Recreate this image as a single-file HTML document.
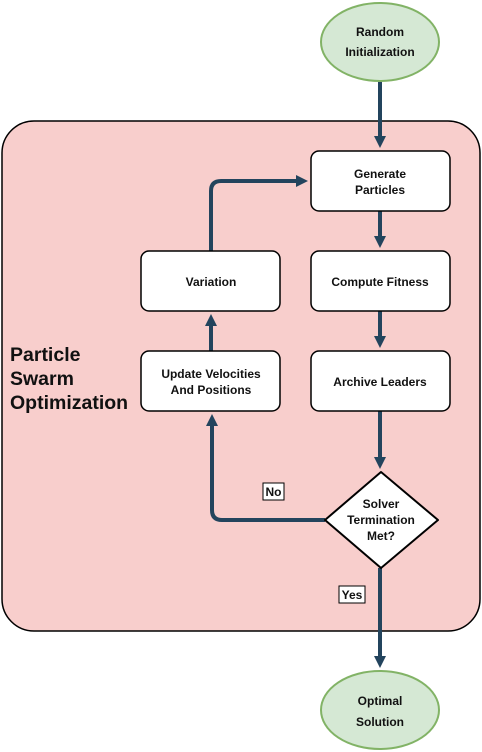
<!DOCTYPE html>
<html><head><style>
html,body{margin:0;padding:0;background:#fff;}
svg{display:block;}
text{font-family:"Liberation Sans",sans-serif;font-weight:bold;fill:#111;}
</style></head><body>
<svg width="482" height="752" viewBox="0 0 482 752">
<defs>
<marker id="a" markerWidth="12" markerHeight="12" refX="6" refY="6" orient="auto" markerUnits="userSpaceOnUse" viewBox="0 0 12 12">
<path d="M0,0 L12,6 L0,12 Z" fill="#23445d"/>
</marker>
</defs>
<rect x="2" y="121" width="478" height="510" rx="32" fill="#f8cecc" stroke="#000" stroke-width="1.5"/>
<text x="10" y="361" font-size="19.5">Particle</text>
<text x="10" y="385" font-size="19.5">Swarm</text>
<text x="10" y="409" font-size="19.5">Optimization</text>
<g stroke="#23445d" stroke-width="4" fill="none">
<path d="M380,82 V142" marker-end="url(#a)"/>
<path d="M380,211 V242" marker-end="url(#a)"/>
<path d="M380,311 V342" marker-end="url(#a)"/>
<path d="M380,411 V463" marker-end="url(#a)"/>
<path d="M380,568 V662" marker-end="url(#a)"/>
<path d="M325,520 H222 Q212,520 212,510 V420" marker-end="url(#a)"/>
<path d="M211,351 V320" marker-end="url(#a)"/>
<path d="M211,251 V191 Q211,181 221,181 H302" marker-end="url(#a)"/>
</g>
<ellipse cx="380" cy="42" rx="59" ry="39" fill="#d5e8d4" stroke="#82b366" stroke-width="2"/>
<text x="380" y="36" font-size="12" text-anchor="middle">Random</text>
<text x="380" y="56" font-size="12" text-anchor="middle">Initialization</text>
<ellipse cx="380" cy="710" rx="59" ry="39" fill="#d5e8d4" stroke="#82b366" stroke-width="2"/>
<text x="380" y="705" font-size="12" text-anchor="middle">Optimal</text>
<text x="380" y="726" font-size="12" text-anchor="middle">Solution</text>
<g fill="#fff" stroke="#000" stroke-width="1.5">
<rect x="311" y="151" width="139" height="60" rx="8"/>
<rect x="311" y="251" width="139" height="60" rx="8"/>
<rect x="311" y="351" width="139" height="60" rx="8"/>
<rect x="141" y="251" width="139" height="60" rx="8"/>
<rect x="141" y="351" width="139" height="60" rx="8"/>
<path d="M381,472 L438,520 L381,568 L325,520 Z" stroke-width="2" stroke-linejoin="round"/>
</g>
<g font-size="12" text-anchor="middle">
<text x="380" y="178">Generate</text>
<text x="380" y="194">Particles</text>
<text x="380" y="286">Compute Fitness</text>
<text x="380" y="386">Archive Leaders</text>
<text x="211" y="286">Variation</text>
<text x="211" y="378">Update Velocities</text>
<text x="211" y="394">And Positions</text>
<text x="381" y="508">Solver</text>
<text x="381" y="524">Termination</text>
<text x="381" y="540">Met?</text>
</g>
<rect x="263" y="483" width="21" height="17" fill="#fff" stroke="#000" stroke-width="1"/>
<text x="273.5" y="496" font-size="12" text-anchor="middle">No</text>
<rect x="339" y="586" width="26" height="17" fill="#fff" stroke="#000" stroke-width="1"/>
<text x="352" y="599" font-size="12" text-anchor="middle">Yes</text>
</svg>
</body></html>
